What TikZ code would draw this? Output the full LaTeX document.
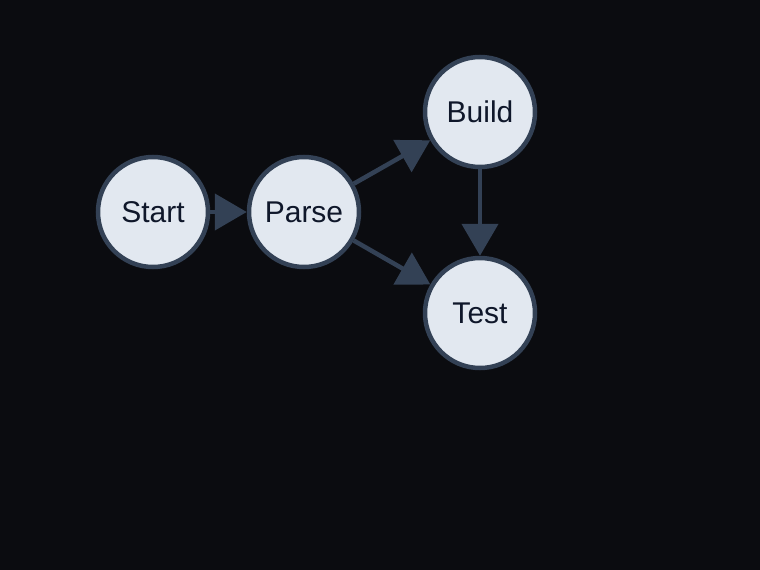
\documentclass[tikz,border=0pt]{standalone}
\usepackage{fontspec}
\setmainfont{Liberation Sans}
\usetikzlibrary{arrows.meta}
\definecolor{bg}{HTML}{0B0C10}
\definecolor{nodefill}{HTML}{E2E8F0}
\definecolor{nodeline}{HTML}{334155}
\definecolor{nodetext}{HTML}{0F172A}
\tikzset{
  statenode/.style={circle, draw=nodeline, fill=nodefill, line width=4.5pt,
    minimum size=110pt, inner sep=0pt, text=nodetext, font=\fontsize{30}{34}\selectfont},
  flow/.style={draw=nodeline, line width=4.5pt, -{Triangle[length=32pt,width=36pt]}}
}
\begin{document}
\begin{tikzpicture}[x=1pt,y=-1pt]
\fill[bg] (0,0) rectangle (760,570);
\useasboundingbox (0,0) rectangle (760,570);
\node[statenode] (start) at (153,212) {Start};
\node[statenode] (parse) at (304,212) {Parse};
\node[statenode] (build) at (480,112) {Build};
\node[statenode] (test) at (480,313) {Test};
\draw[flow] (start) -- (parse);
\draw[flow] (parse) -- (build);
\draw[flow] (parse) -- (test);
\draw[flow] (build) -- (test);
\end{tikzpicture}
\end{document}
